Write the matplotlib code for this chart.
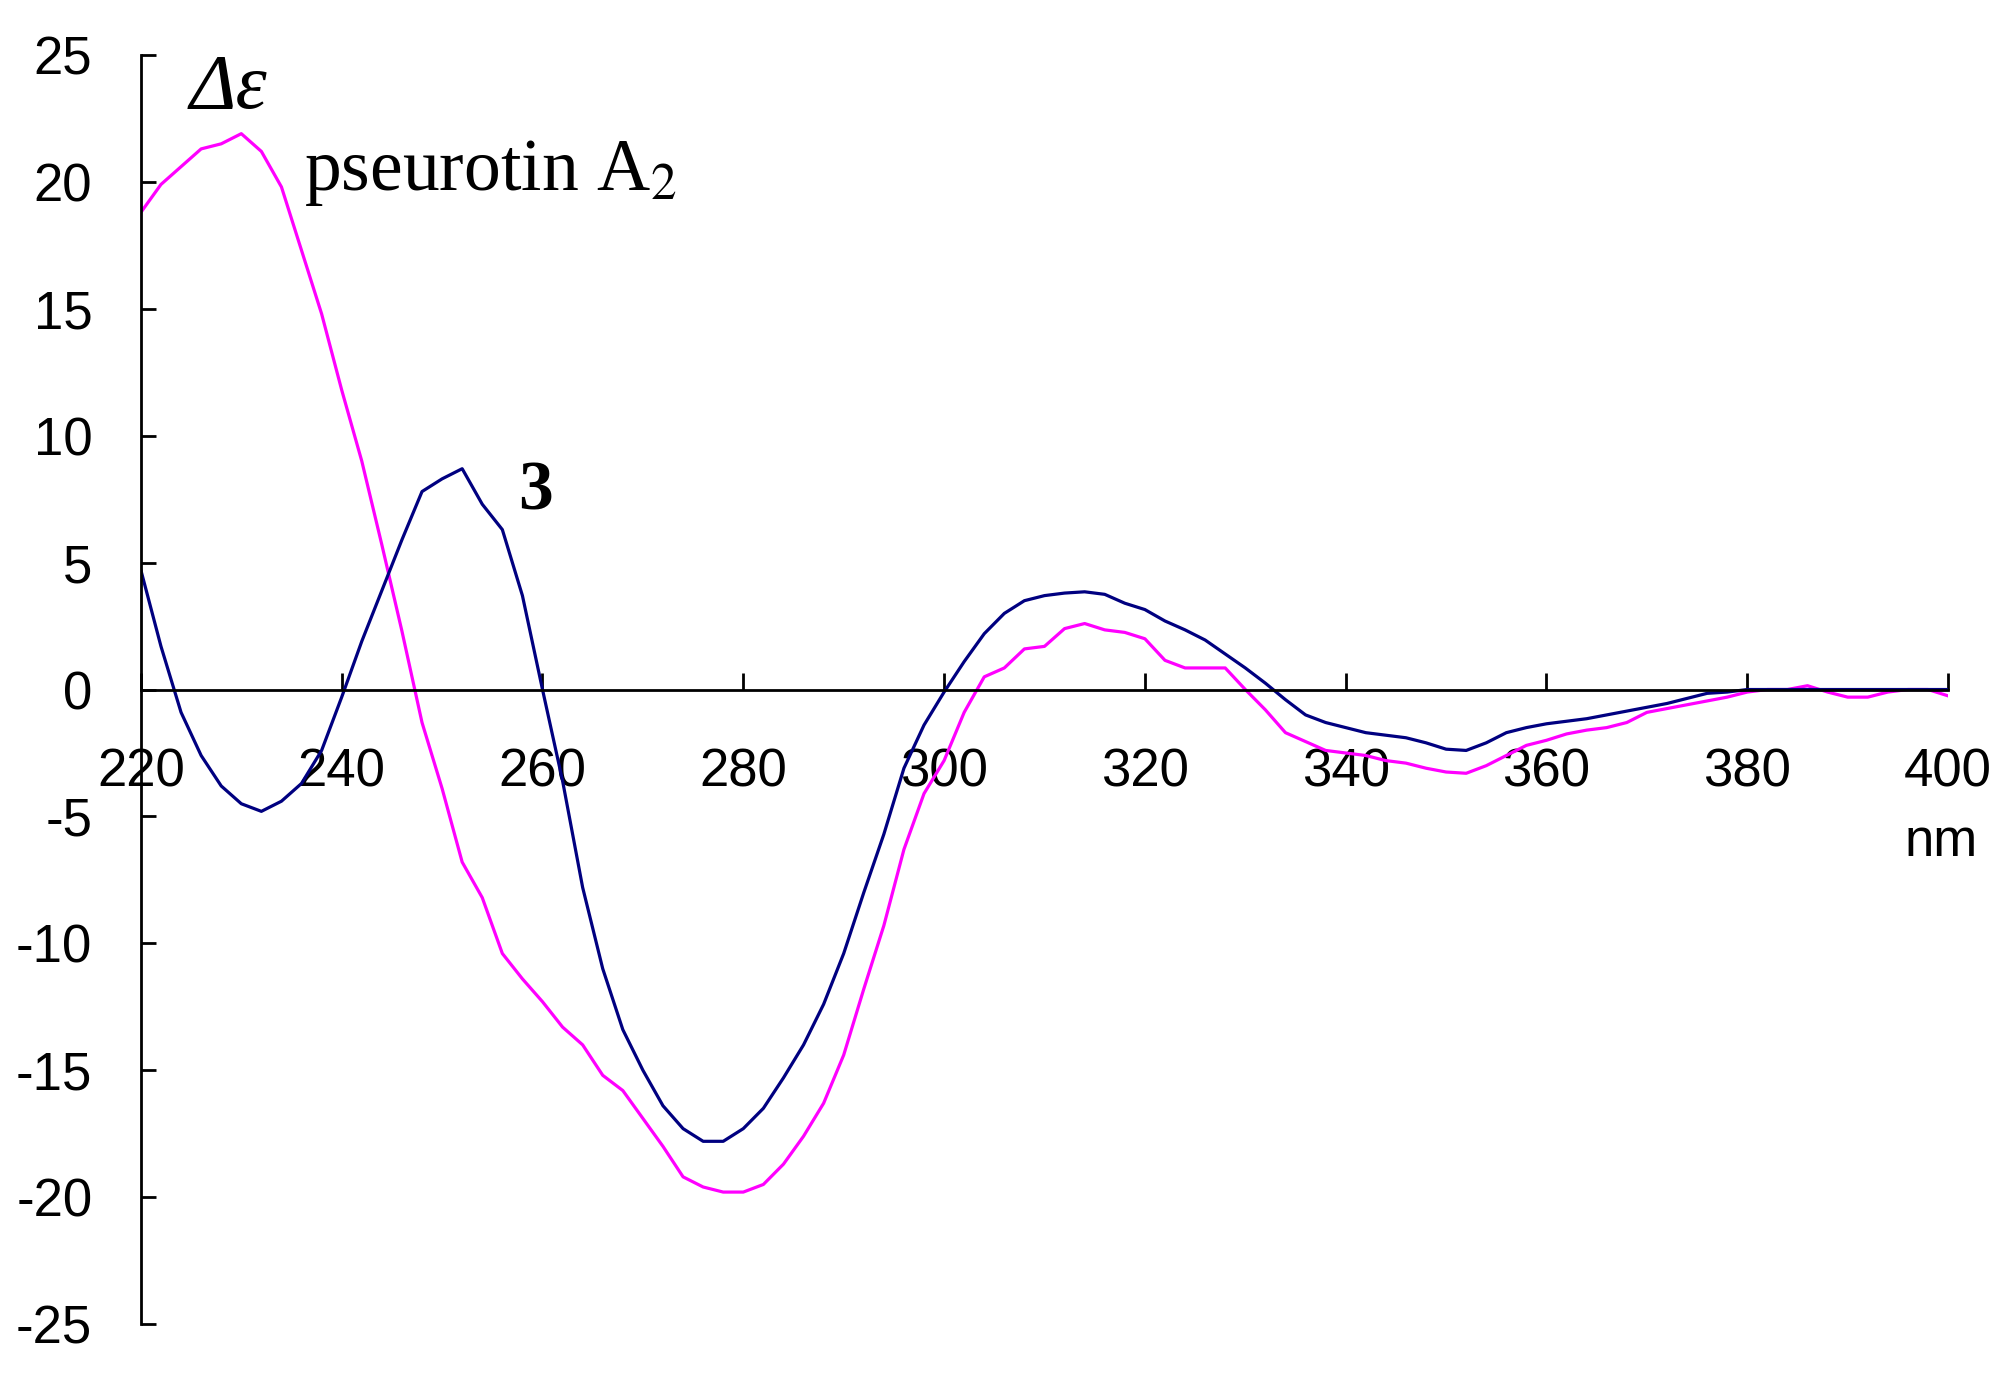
import matplotlib.pyplot as plt
import numpy as np

# wavelength grid (nm) and CD values
wl = np.arange(220, 402, 2)

# pseurotin A2 (magenta)
pseurotin = [18.8, 19.9, 20.6, 21.3, 21.5, 21.9, 21.2, 19.8, 17.3, 14.8,
             11.8, 9.0, 5.7, 2.3, -1.3, -3.9, -6.8, -8.2, -10.4, -11.4,
             -12.3, -13.3, -14.0, -15.2, -15.8, -16.9, -18.0, -19.2, -19.6, -19.8,
             -19.8, -19.5, -18.7, -17.6, -16.3, -14.4, -11.8, -9.3, -6.3, -4.1,
             -2.8, -0.9, 0.5, 0.85, 1.6, 1.7, 2.4, 2.6, 2.35, 2.25,
             2.0, 1.15, 0.85, 0.85, 0.85, 0.0, -0.8, -1.7, -2.05, -2.4,
             -2.5, -2.6, -2.8, -2.9, -3.1, -3.25, -3.3, -3.0, -2.6, -2.2,
             -2.0, -1.75, -1.6, -1.5, -1.3, -0.9, -0.75, -0.6, -0.45, -0.3,
             -0.1, 0.0, 0.0, 0.15, -0.1, -0.3, -0.3, -0.1, 0.0, 0.0,
             -0.25]

# compound 3 (navy)
comp3 = [4.7, 1.7, -0.9, -2.6, -3.8, -4.5, -4.8, -4.4, -3.7, -2.4,
         -0.3, 1.9, 3.9, 5.9, 7.8, 8.3, 8.7, 7.3, 6.3, 3.7,
         0.0, -3.6, -7.8, -11.0, -13.4, -15.0, -16.4, -17.3, -17.8, -17.8,
         -17.3, -16.5, -15.3, -14.0, -12.4, -10.4, -8.0, -5.7, -3.1, -1.4,
         -0.1, 1.1, 2.2, 3.0, 3.5, 3.7, 3.8, 3.85, 3.75, 3.4,
         3.15, 2.7, 2.35, 1.95, 1.4, 0.85, 0.25, -0.4, -1.0, -1.3,
         -1.5, -1.7, -1.8, -1.9, -2.1, -2.35, -2.4, -2.1, -1.7, -1.5,
         -1.35, -1.25, -1.15, -1.0, -0.85, -0.7, -0.55, -0.35, -0.15, -0.1,
         0.0, 0.0, 0.0, 0.0, 0.0, 0.0, 0.0, 0.0, 0.0, 0.0,
         0.0]

xticks = list(range(220, 401, 20))
yticks = list(range(-25, 26, 5))

plt.rcParams['mathtext.fontset'] = 'stix'

fig = plt.figure(figsize=(20.1, 13.85), dpi=100)
ax = fig.add_axes([0.0701, 0.044, 0.8991, 0.9163])

ax.plot(wl, pseurotin, color='#FF00FF', lw=2.3)
ax.plot(wl, comp3, color='#000080', lw=2.3)

ax.set_xlim(220, 400)
ax.set_ylim(-25, 25)

ax.spines['top'].set_visible(False)
ax.spines['right'].set_visible(False)
ax.spines['bottom'].set_position(('data', 0))
ax.spines['left'].set_linewidth(2)
ax.spines['bottom'].set_linewidth(2)

ax.set_xticks(xticks)
ax.set_yticks(yticks)
ax.set_yticklabels([str(v) for v in yticks])
ax.tick_params(axis='x', direction='in', length=12, width=2, pad=42,
               labelsize=38)
ax.tick_params(axis='y', direction='in', length=11, width=2, pad=35,
               labelsize=38)
for lab in ax.get_xticklabels() + ax.get_yticklabels():
    lab.set_family('Liberation Sans')

ax.text(224.9, 22.9, 'Δε', family='Liberation Serif', style='italic',
        fontsize=57, va='baseline', ha='left')
ax.text(236.2, 19.7, 'pseurotin A$_2$', family='Liberation Serif',
        fontsize=53, va='baseline', ha='left')
ax.text(257.6, 7.1, '3', family='Liberation Serif', fontweight='bold',
        fontsize=50, va='baseline', ha='left')
ax.text(395.7, -6.55, 'nm', family='Liberation Sans', fontsize=38,
        va='baseline', ha='left')

fig.savefig('out.png', dpi=100)
